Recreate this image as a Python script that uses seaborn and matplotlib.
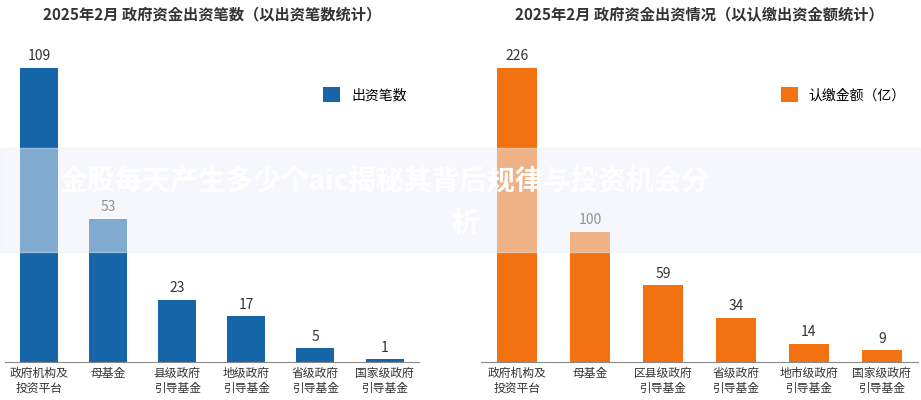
import seaborn as sns
import matplotlib.pyplot as plt
import pandas as pd

plt.rcParams['font.family'] = ['Noto Sans CJK SC', 'Noto Sans CJK JP', 'Noto Sans CJK TC', 'Noto Sans CJK KR', 'DejaVu Sans']

left_cats = ['政府机构及\n投资平台', '母基金', '县级政府\n引导基金', '地级政府\n引导基金', '省级政府\n引导基金', '国家级政府\n引导基金']
left_vals = [109, 53, 23, 17, 5, 1]
right_cats = ['政府机构及\n投资平台', '母基金', '区县级政府\n引导基金', '省级政府\n引导基金', '地市级政府\n引导基金', '国家级政府\n引导基金']
right_vals = [226, 100, 59, 34, 14, 9]

fig = plt.figure(figsize=(9.21, 4), dpi=100)
ax1 = fig.add_axes([0.005, 0.095, 0.45, 0.78])
ax2 = fig.add_axes([0.522, 0.095, 0.475, 0.78])

panels = [
    (ax1, left_cats, left_vals, '#1565a8', '出资笔数', '2025年2月 政府资金出资笔数（以出资笔数统计）'),
    (ax2, right_cats, right_vals, '#f27212', '认缴金额（亿）', '2025年2月 政府资金出资情况（以认缴出资金额统计）'),
]
for ax, cats, vals, col, lab, title in panels:
    df = pd.DataFrame({'cat': cats, 'val': vals})
    sns.barplot(data=df, x='cat', y='val', color=col, saturation=1, width=0.55, ax=ax, label=lab)
    for i, v in enumerate(vals):
        ax.text(i, v + max(vals) * 0.015, str(v), ha='center', va='bottom', fontsize=10, color='#333333')
    ax.set_ylim(0, max(vals) * 1.06)
    ax.set_xlim(-0.5, len(cats) - 0.5)
    ax.set_xlabel('')
    ax.set_ylabel('')
    ax.set_yticks([])
    ax.tick_params(axis='x', length=0, labelsize=8.5, colors='#333333')
    for s in ['top', 'right', 'left']:
        ax.spines[s].set_visible(False)
    ax.spines['bottom'].set_color('#888888')
    ax.legend(loc='upper right', bbox_to_anchor=(1.0, 0.92), frameon=False, fontsize=10,
              handlelength=1.2, handleheight=1.2)
    ax.set_title(title, fontsize=11, fontweight='bold', color='#333333', pad=22)

# watermark banner
fig.patches.append(plt.Rectangle((0, 0.37), 1, 0.26, transform=fig.transFigure,
                                 color='#eef0fa', alpha=0.5, zorder=5))
fig.text(0.065, 0.545, '金股每天产生多少个aic揭秘其背后规律与投资机会分', fontsize=20,
         fontweight='bold', color='white', zorder=6, va='center')
fig.text(0.49, 0.44, '析', fontsize=20, fontweight='bold', color='white', zorder=6, va='center')

fig.savefig('out.png', dpi=100)
